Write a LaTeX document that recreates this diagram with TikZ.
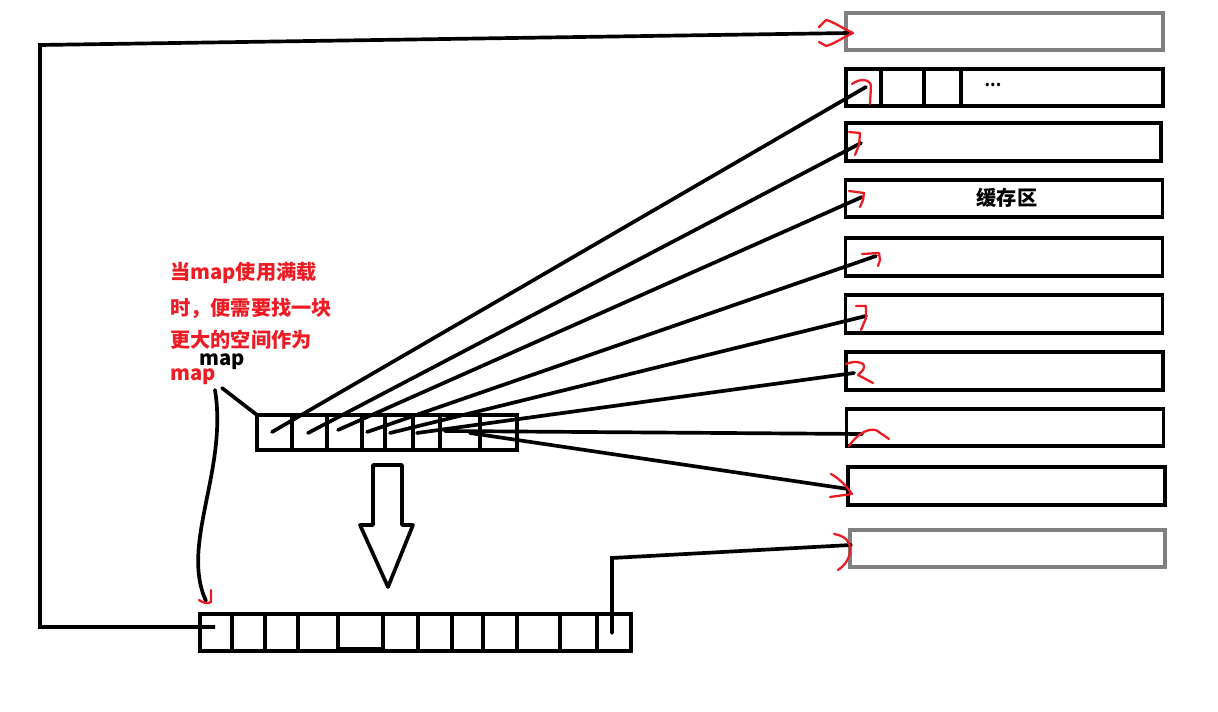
\documentclass[tikz,border=0pt]{standalone}
\usepackage{fontspec}
\newfontfamily\cjk{Noto Sans CJK SC}
\definecolor{paintred}{RGB}{237,28,36}
\definecolor{boxgray}{RGB}{128,128,128}
\begin{document}
\begin{tikzpicture}[x=0.02cm,y=-0.02cm,
  rbox/.style={draw, line width=2.2pt, minimum width=6.34cm, minimum height=0.75cm, inner sep=0pt, outer sep=0pt},
  graybox/.style={rbox, draw=boxgray},
  conn/.style={line width=2.1pt, line cap=round},
  cell/.style={line width=2.2pt},
  rmark/.style={draw=paintred, line width=1.3pt, line cap=round, line join=round},
  rtext/.style={text=paintred, font=\cjk\bfseries\fontsize{11.5pt}{13pt}\selectfont, anchor=west, inner sep=0pt},
  btext/.style={font=\cjk\bfseries\fontsize{11.5pt}{13pt}\selectfont, inner sep=0pt}]
\useasboundingbox (0,0) rectangle (1218,712);
\fill[white] (0,0) rectangle (1218,712);

% right column boxes
\node[graybox] (b1) at (1004.5,31.5) {};
\node[rbox] (b2) at (1004.5,87.5) {};
\node[rbox, minimum width=6.30cm] (b3) at (1003.5,142) {};
\node[rbox] (b4) at (1004,198.5) {};
\node[rbox] (b5) at (1004,257) {};
\node[rbox] (b6) at (1004,314) {};
\node[rbox] (b7) at (1004.5,371) {};
\node[rbox] (b8) at (1005,427.5) {};
\node[rbox] (b9) at (1006.5,486) {};
\node[graybox, minimum width=6.30cm] (b10) at (1007.5,548.5) {};

% cells inside b2
\draw[cell] (881,69) -- (881,106);
\draw[cell] (924,69) -- (924,106);
\draw[cell] (961,69) -- (961,106);
\node[btext, font=\cjk\bfseries\fontsize{9pt}{10pt}\selectfont] (dots) at (993,85) {...};
\node[btext] (buf) at (1007,198) {缓存区};

% small map array
\node[rbox, minimum width=5.2cm, minimum height=0.7cm] (sa) at (387,432.5) {};
\foreach \x in {292,327,362,385,413,440,480}
  \draw[cell] (\x,415) -- (\x,450);

% big map array
\node[rbox, minimum width=8.62cm, minimum height=0.74cm] (ba) at (415.5,632.5) {};
\foreach \x in {232,265,298,338,383,418,452,483,517,560,597}
  \draw[cell] (\x,614) -- (\x,651);
\draw[line width=3pt] (338,650) -- (383,650);

% start coordinates in small array
\coordinate (s1) at (272,432);
\coordinate (s2) at (308,433);
\coordinate (s3) at (338,430);
\coordinate (s4) at (367,432);
\coordinate (s5) at (390,433);
\coordinate (s6) at (417,433);
\coordinate (s7) at (445,431);
\coordinate (s8) at (470,433);
% end coordinates in right boxes
\coordinate (e1) at (866,87);
\coordinate (e2) at (861,143);
\coordinate (e3) at (862,197);
\coordinate (e4) at (876,256);
\coordinate (e5) at (866,316);
\coordinate (e6) at (854,373);
\coordinate (e7) at (862,434);
\coordinate (e8) at (848,489);
\foreach \i in {1,...,8}
  \draw[conn] (s\i) -- (e\i);

% left connector from big array to top gray box
\coordinate (bl) at (215,627);
\coordinate (c1) at (40,627);
\coordinate (c2) at (40,45);
\coordinate (t1) at (850,33);
\draw[conn, line cap=butt] (bl) -- (c1) -- (c2) -- (t1);

% right connector from big array last cell to bottom gray box
\coordinate (br) at (612,633);
\coordinate (c3) at (612,558);
\coordinate (t10) at (851,545);
\draw[conn] (br) -- (c3) -- (t10);

% down block arrow
\draw[line width=2.1pt, line join=round] (373,465) -- (402,465) -- (402,525) -- (413,525) -- (388,587) -- (360,525) -- (373,525) -- cycle;

% texts
\node[rtext] (t-l1) at (170,273) {当map使用满载};
\node[rtext] (t-l2) at (170,308) {时，便需要找一块};
\node[rtext] (t-l3) at (170,340) {更大的空间作为};
\node[rtext] (t-l4) at (170,377) {map};
\node[btext, anchor=west] (t-map) at (199,362) {map};

% curve and pointer line
\coordinate (cv1) at (215,390);
\coordinate (cv2) at (206,601);
\draw[conn] (cv1) .. controls (228,470) and (180,545) .. (cv2);
\coordinate (pl) at (222,388);
\draw[conn] (pl) -- (sa.north west);

% red hand-drawn marks
\draw[rmark] (819,27) -- (826,20) .. controls (834,22) and (840,27) .. (853,33) .. controls (842,38) and (834,44) .. (826,46) -- (819,42);
\draw[rmark] (852,84) .. controls (860,78) and (870,79) .. (871,86) -- (870,104);
\draw[rmark] (849,132) -- (860,133) -- (859,145) -- (855,155);
\draw[rmark] (849,191) -- (864,193) -- (863,200) -- (860,207);
\draw[rmark] (862,254) -- (879,253) -- (880,260) -- (878,266);
\draw[rmark] (856,306) -- (866,306) -- (866,318) -- (861,330);
\draw[rmark] (846,364) .. controls (855,360) and (868,362) .. (863,370) -- (858,375) -- (873,383);
\draw[rmark] (849,446) .. controls (856,436) and (866,428) .. (876,430) -- (889,439);
\draw[rmark] (831,474) .. controls (838,478) and (845,484) .. (852,494) -- (830,497);
\draw[rmark] (834,534) .. controls (848,536) and (851,545) .. (850,552) .. controls (849,560) and (843,567) .. (838,570);
\draw[rmark] (199,600) .. controls (203,603) and (208,604) .. (211,602) -- (211,590);
\end{tikzpicture}
\end{document}
